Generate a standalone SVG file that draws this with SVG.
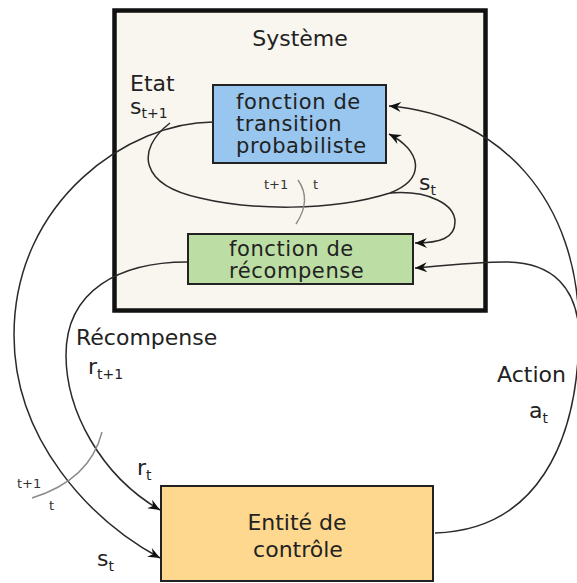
<svg xmlns="http://www.w3.org/2000/svg" width="577" height="583" viewBox="0 0 577 583">
<style>
.lbl{font-family:"DejaVu Sans",Verdana,sans-serif;fill:#222;font-size:22px}
.bx{font-family:"DejaVu Sans",Verdana,sans-serif;fill:#222;font-size:21px;letter-spacing:0.6px}
.sub{font-size:14px;letter-spacing:0}
.small{font-family:"DejaVu Sans",Verdana,sans-serif;fill:#333;font-size:13px}
.box{stroke:#222;stroke-width:2}
.con{fill:none;stroke:#2a2a2a;stroke-width:1.5}
.sep{fill:none;stroke:#8a8a8a;stroke-width:1.4}
</style>
<defs>
<marker id="arr" viewBox="-13 -6 14 12" refX="0" refY="0" markerWidth="14" markerHeight="12" markerUnits="userSpaceOnUse" orient="auto">
<path d="M0,0 L-12,-5 L-8,0 L-12,5 Z" fill="#111"/>
</marker>
</defs>
<rect width="577" height="583" fill="#ffffff"/>
<g id="systeme">
<rect x="114.5" y="10.5" width="371" height="300" fill="#f8f6ee" stroke="#111" stroke-width="4.5"/>
<text class="lbl" x="300" y="46" text-anchor="middle">Système</text>
</g>
<g id="transition">
<rect class="box" x="213" y="85" width="173" height="78" fill="#98c6ee"/>
<text class="bx" x="236" y="109">fonction de</text>
<text class="bx" x="236" y="131">transition</text>
<text class="bx" x="236" y="153">probabiliste</text>
</g>
<g id="recompense">
<rect class="box" x="188" y="234" width="225" height="50" fill="#bcdea4"/>
<text class="bx" x="229" y="256">fonction de</text>
<text class="bx" x="229" y="278">récompense</text>
</g>
<g id="controle">
<rect class="box" x="161" y="486" width="272" height="95" fill="#fdd88e"/>
<text class="lbl" x="297" y="530" text-anchor="middle">Entité de</text>
<text class="lbl" x="298" y="557" text-anchor="middle">contrôle</text>
</g>
<g id="connectors">
<path class="con" d="M213,122 C130,122 14,200 14,335 C14,440 90,520 160,558" marker-end="url(#arr)"/>
<path class="con" d="M187,262 C120,262 66,290 66,355 C66,410 100,475 160,510" marker-end="url(#arr)"/>
<path class="con" d="M170,123 C135,150 140,185 200,198 C250,210 330,212 390,193 C428,178 420,150 389,134" marker-end="url(#arr)"/>
<path class="con" d="M390,193 C430,190 455,205 455,222 C455,238 440,243 415,243" marker-end="url(#arr)"/>
<path class="con" d="M435,533 C535,530 579,445 579,330 C579,200 500,115 389,106" marker-end="url(#arr)"/>
<path class="con" d="M579,330 C576,290 555,262 505,262 C470,262 445,266 415,268" marker-end="url(#arr)"/>
<path class="sep" d="M298,180 Q312,200 296,224"/>
<path class="sep" d="M32,498 Q90,480 102,432"/>
</g>
<g id="labels">
<text class="lbl" x="130" y="91">Etat</text>
<text class="lbl" x="130" y="114">s<tspan class="sub" dy="4">t+1</tspan></text>
<text class="small" x="264" y="189">t+1</text>
<text class="small" x="313" y="189">t</text>
<text class="lbl" x="419" y="190">s<tspan class="sub" dy="5">t</tspan></text>
<text class="lbl" x="76" y="345">Récompense</text>
<text class="lbl" x="88" y="374">r<tspan class="sub" dy="5">t+1</tspan></text>
<text class="lbl" x="497" y="382">Action</text>
<text class="lbl" x="529" y="418">a<tspan class="sub" dy="5">t</tspan></text>
<text class="lbl" x="137" y="475">r<tspan class="sub" dy="5">t</tspan></text>
<text class="small" x="17" y="488">t+1</text>
<text class="small" x="49" y="510">t</text>
<text class="lbl" x="97" y="566">s<tspan class="sub" dy="5">t</tspan></text>
</g>
</svg>
